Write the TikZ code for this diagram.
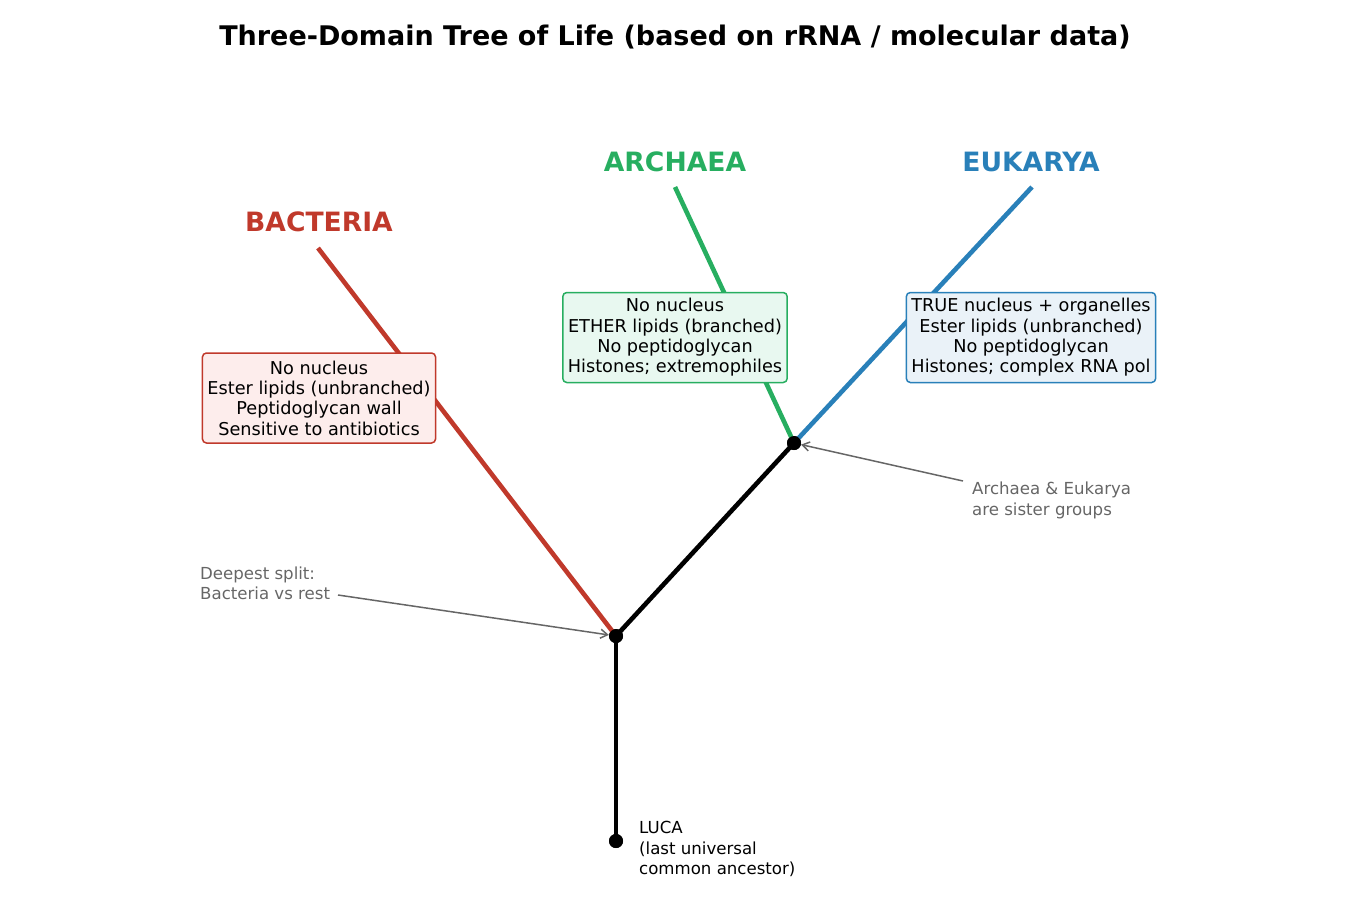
\documentclass[tikz,border=0pt]{standalone}
\usepackage{fontspec}
\setmainfont{DejaVu Sans}
\usetikzlibrary{arrows.meta}
\definecolor{bact}{HTML}{C0392B}
\definecolor{arch}{HTML}{27AE60}
\definecolor{euk}{HTML}{2980B9}
\definecolor{bactfill}{HTML}{FDEDEC}
\definecolor{archfill}{HTML}{E8F8F0}
\definecolor{eukfill}{HTML}{EAF2F8}
\definecolor{annotgray}{HTML}{666666}
\tikzset{
  branch/.style={line width=4.6pt},
  dotnode/.style={circle, fill=black, minimum size=14pt, inner sep=0pt},
  infobox/.style={rounded corners=4pt, line width=1.5pt, align=center,
    font=\fontsize{17.7}{20.4}\selectfont, inner xsep=5pt, inner ysep=0pt, minimum height=90pt},
  domainlabel/.style={font=\fontsize{26.6}{30}\selectfont\bfseries, anchor=base, inner sep=0pt},
  annot/.style={font=\fontsize{16.6}{20.6}\selectfont, text=annotgray, align=left, inner sep=0pt, anchor=north west},
  lucatext/.style={font=\fontsize{16.6}{20.6}\selectfont, align=left, inner sep=0pt, anchor=north west},
  annarrow/.style={draw=annotgray, line width=1.5pt, -{Straight Barb[length=7pt,width=9pt]}},
}
\begin{document}
\begin{tikzpicture}[x=1pt,y=-1pt]
\useasboundingbox (0,0) rectangle (1350,900);
% title
\node[font=\fontsize{27}{32}\selectfont\bfseries, anchor=base, inner sep=0pt] (title) at (675,45) {Three-Domain Tree of Life (based on rRNA / molecular data)};
% tree nodes
\coordinate (bend) at (318,248);
\coordinate (aend) at (675,187);
\coordinate (eend) at (1032,187);
\node[dotnode] (luca) at (616,841) {};
\node[dotnode] (root) at (616,636) {};
\node[dotnode] (ae) at (794,443) {};
% branches
\draw[branch, bact] (root.center) -- (bend);
\draw[branch, arch] (ae.center) -- (aend);
\draw[branch, euk] (ae.center) -- (eend);
\draw[branch, black] (luca.center) -- (root.center);
\draw[branch, black] (root.center) -- (ae.center);
% redraw dots on top
\node[dotnode] at (luca) {};
\node[dotnode] at (root) {};
\node[dotnode] at (ae) {};
% domain labels
\node[domainlabel, text=bact] (blabel) at (319,231.7) {BACTERIA};
\node[domainlabel, text=arch] (alabel) at (675,171.7) {ARCHAEA};
\node[domainlabel, text=euk] (elabel) at (1031,171.7) {EUKARYA};
% info boxes
\node[infobox, draw=bact, fill=bactfill] (bbox) at (319,398) {No nucleus\\Ester lipids (unbranched)\\Peptidoglycan wall\\Sensitive to antibiotics};
\node[infobox, draw=arch, fill=archfill] (abox) at (675,337.5) {No nucleus\\ETHER lipids (branched)\\No peptidoglycan\\Histones; extremophiles};
\node[infobox, draw=euk, fill=eukfill] (ebox) at (1031,337.5) {TRUE nucleus + organelles\\Ester lipids (unbranched)\\No peptidoglycan\\Histones; complex RNA pol};
% annotations
\node[annot] (ann1) at (200,566.4) {Deepest split:\\Bacteria vs rest};
\node[annot] (ann2) at (972,481.7) {Archaea \& Eukarya\\are sister groups};
\coordinate (a1s) at (338,595);
\coordinate (a2s) at (963,481);
\draw[annarrow] (a1s) -- (root);
\draw[annarrow] (a2s) -- (ae);
% LUCA label
\node[lucatext] (lucalabel) at (639,821) {LUCA\\(last universal\\common ancestor)};
\end{tikzpicture}
\end{document}
